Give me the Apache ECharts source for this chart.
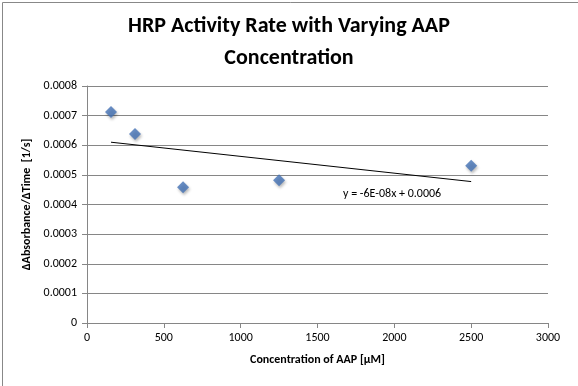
<!DOCTYPE html>
<html><head><meta charset="utf-8">
<script src="https://cdn.jsdelivr.net/npm/echarts@6/dist/echarts.min.js"></script>
<style>html,body{margin:0;padding:0;background:#fff}#c{width:578px;height:386px}</style>
</head><body><div id="c"></div>
<script>
const concentrations = [156.25, 312.5, 625, 1250, 2500];
const rates = [0.000712, 0.000638, 0.000458, 0.000482, 0.000531];
const xTicks = [0, 500, 1000, 1500, 2000, 2500, 3000];
const yTicks = [0, 0.0001, 0.0002, 0.0003, 0.0004, 0.0005, 0.0006, 0.0007, 0.0008];
const titleText = 'HRP Activity Rate with Varying AAP\nConcentration';
const xTitle = 'Concentration of AAP [µM]';
const yTitle = 'ΔAbsorbance/ΔTime  [1/s]';
const eqText = 'y = -6E-08x + 0.0006';

// linear regression
const n = concentrations.length;
const mx = concentrations.reduce((a,b)=>a+b,0)/n;
const my = rates.reduce((a,b)=>a+b,0)/n;
let sxy=0, sxx=0;
for (let i=0;i<n;i++){ sxy+=(concentrations[i]-mx)*(rates[i]-my); sxx+=(concentrations[i]-mx)**2; }
const slope = sxy/sxx, icpt = my - slope*mx;
const xmin = Math.min(...concentrations), xmax = Math.max(...concentrations);
const trend = [[xmin, icpt+slope*xmin],[xmax, icpt+slope*xmax]];

const font = 'Calibri, Carlito, Lato, sans-serif';
const chart = echarts.init(document.getElementById('c'));
chart.setOption({
  animation:false,
  backgroundColor:'#fff',
  title:{text:titleText, left:'center', top:5,
    textStyle:{fontFamily:font, fontSize:22, fontWeight:'bold', color:'#000', lineHeight:32}},
  grid:{left:87, right:30, top:86, bottom:63},
  xAxis:{type:'value', min:0, max:3000, interval:500,
    name:xTitle, nameLocation:'middle', nameGap:31,
    nameTextStyle:{fontFamily:font, fontSize:12, fontWeight:'bold', color:'#000'},
    axisLine:{lineStyle:{color:'#868686'}}, axisTick:{show:true, length:5, lineStyle:{color:'#868686'}},
    axisLabel:{fontFamily:font, fontSize:12, color:'#000', margin:9, formatter:v=>xTicks.includes(v)?String(v):''},
    splitLine:{show:false}},
  yAxis:{type:'value', min:0, max:0.0008, interval:0.0001,
    name:yTitle, nameLocation:'middle', nameGap:53, nameRotate:90,
    nameTextStyle:{fontFamily:font, fontSize:12, fontWeight:'bold', color:'#000'},
    axisLine:{show:true, lineStyle:{color:'#868686'}}, axisTick:{show:true, length:5, lineStyle:{color:'#868686'}},
    axisLabel:{fontFamily:font, fontSize:12, color:'#000', margin:10,
      formatter:v=>{const t=yTicks.find(y=>Math.abs(y-v)<1e-9); return t===0?'0':t.toFixed(4);}},
    splitLine:{show:true, lineStyle:{color:'#868686', width:1}}},
  series:[
    {type:'line', data:trend, symbol:'none', lineStyle:{color:'#000', width:1}, z:1, silent:true},
    {type:'scatter', data:concentrations.map((x,i)=>[x,rates[i]]), symbol:'diamond', symbolSize:12,
      itemStyle:{color:'#4372B5', shadowColor:'rgba(0,0,0,0.35)', shadowBlur:3, shadowOffsetX:1, shadowOffsetY:2}, z:2}
  ],
  graphic:[
    {type:'rect', left:0, top:0, shape:{x:0.5,y:0.5,width:577,height:385}, style:{fill:'none', stroke:'#888', lineWidth:1}, silent:true},
    {type:'text', left:343, top:188, style:{text:eqText, fontFamily:font, fontSize:12, fill:'#000'}}
  ]
});
</script></body></html>
